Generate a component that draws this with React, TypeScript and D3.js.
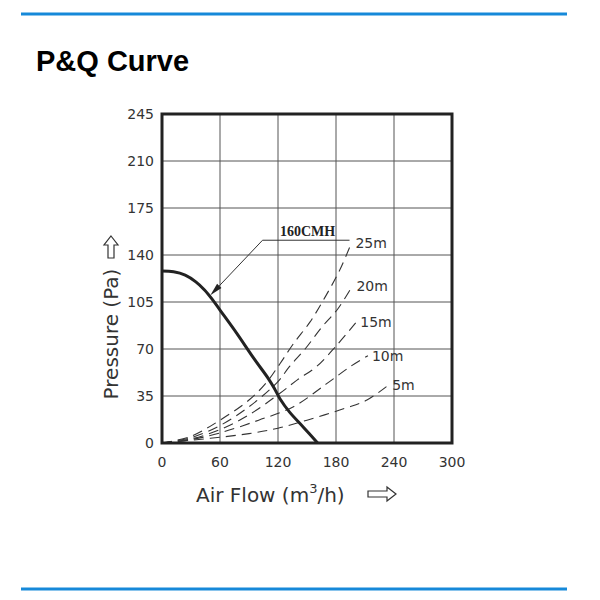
import * as d3 from 'd3';

// axis ticks
const xTicks = [0, 60, 120, 180, 240, 300];
const yTicks = [0, 35, 70, 105, 140, 175, 210, 245];

// fan P-Q curve: [air flow m3/h, pressure Pa]
const pqCurve: [number, number][] = [
  [0, 128], [12, 127.5], [24, 125], [35, 120], [44, 114], [52, 107], [60, 99], [77, 82], [95, 63],
  [110, 48], [116, 41], [122, 33], [132, 23], [146, 12], [161, 0],
];

// system resistance curves (duct length)
const sysNames = ['25m', '20m', '15m', '10m', '5m'];
const sys25: [number, number][] = [[0, 0], [30, 5], [60, 17], [90, 32], [108, 45], [122, 59], [136, 74], [153, 90], [169, 109], [184, 129], [196, 149]];
const sys20: [number, number][] = [[0, 0], [30, 4], [60, 13], [90, 27], [119, 45], [132, 57], [148, 70], [165, 86], [182, 100], [197, 117]];
const sys15: [number, number][] = [[0, 0], [30, 3], [60, 10], [90, 21], [122, 37], [140, 47], [160, 57], [181, 73], [201, 90]];
const sys10: [number, number][] = [[0, 0], [30, 2.5], [60, 7.5], [100, 17], [136, 27], [170, 44], [195, 57], [213, 65]];
const sys5: [number, number][] = [[0, 0], [50, 3.5], [90, 7], [120, 11], [150, 17], [190, 26], [212, 32], [234, 43]];
const sysCurves = [sys25, sys20, sys15, sys10, sys5];

// annotation leader: tip on curve, elbow, end of underline
const annoLabel = '160CMH';
const annoPts: [number, number][] = [[50, 110], [104, 151], [194, 151]];

const W = 600;
const H = 600;
const plot = { left: 162, right: 452, top: 114, bottom: 443 };
const font = '"DejaVu Sans", sans-serif';

export default function App() {
  const x = d3.scaleLinear().domain([0, 300]).range([plot.left, plot.right]);
  const y = d3.scaleLinear().domain([0, 245]).range([plot.bottom, plot.top]);

  const line = d3.line<[number, number]>()
    .x(d => x(d[0]))
    .y(d => y(d[1]));
  const smooth = d3.line<[number, number]>()
    .x(d => x(d[0]))
    .y(d => y(d[1]))
    .curve(d3.curveCatmullRom.alpha(0.5));

  const [tip, elbow, end] = annoPts;
  const tx = x(tip[0]), ty = y(tip[1]);
  const ex = x(elbow[0]), ey = y(elbow[1]);
  const ang = Math.atan2(ey - ty, ex - tx);
  const headLen = 13, headW = 3;
  const hx = tx + headLen * Math.cos(ang), hy = ty + headLen * Math.sin(ang);
  const px = -Math.sin(ang) * headW, py = Math.cos(ang) * headW;

  return (
    <svg width={W} height={H} style={{ position: 'absolute', left: 0, top: 0 }}>
      <rect width={W} height={H} fill="#fff" />
      <line x1={21} x2={567} y1={14} y2={14} stroke="#1689d9" strokeWidth={3} />
      <line x1={21} x2={567} y1={589} y2={589} stroke="#1689d9" strokeWidth={3} />
      <text x={36} y={71} fontFamily='"Liberation Sans", Arial, sans-serif' fontWeight="bold" fontSize={29} fill="#000">P&amp;Q Curve</text>

      {/* grid */}
      <g stroke="#555" strokeWidth={1}>
        {xTicks.slice(1, -1).map(t => (
          <line key={'gx' + t} x1={x(t)} x2={x(t)} y1={plot.top} y2={plot.bottom} />
        ))}
        {yTicks.slice(1, -1).map(t => (
          <line key={'gy' + t} x1={plot.left} x2={plot.right} y1={y(t)} y2={y(t)} />
        ))}
      </g>

      {/* tick labels */}
      <g fontFamily={font} fontSize={14} fill="#333">
        {yTicks.map(t => (
          <text key={'ty' + t} x={plot.left - 8} y={y(t) + 5} textAnchor="end">{t}</text>
        ))}
        {xTicks.map(t => (
          <text key={'tx' + t} x={x(t)} y={467} textAnchor="middle">{t}</text>
        ))}
      </g>

      {/* system curves */}
      <g fill="none" stroke="#333" strokeWidth={1.1} strokeDasharray="10,6">
        {sysCurves.map((c, i) => (
          <path key={sysNames[i]} d={smooth(c) ?? ''} />
        ))}
      </g>
      <g fontFamily={font} fontSize={14} fill="#333">
        {sysCurves.map((c, i) => {
          const last = c[c.length - 1];
          return (
            <text key={'l' + sysNames[i]} x={x(last[0]) + 4} y={y(last[1]) + 5}>{sysNames[i]}</text>
          );
        })}
      </g>

      {/* P-Q curve */}
      <path d={smooth(pqCurve) ?? ''} fill="none" stroke="#222" strokeWidth={3} />

      {/* annotation */}
      <path d={line([elbow, end]) ?? ''} fill="none" stroke="#333" strokeWidth={1} />
      <line x1={ex} y1={ey} x2={hx} y2={hy} stroke="#333" strokeWidth={1} />
      <path d={`M${tx},${ty}L${hx + px},${hy + py}L${hx - px},${hy - py}Z`} fill="#222" />
      <text x={x(122)} y={y(151) - 4} fontFamily='"Liberation Serif", "Times New Roman", serif' fontWeight="bold" fontSize={14} fill="#222">{annoLabel}</text>

      {/* frame */}
      <rect x={plot.left} y={plot.top} width={plot.right - plot.left} height={plot.bottom - plot.top}
        fill="none" stroke="#222" strokeWidth={3} />

      {/* axis titles */}
      <text transform="translate(118,334) rotate(-90)" textAnchor="middle" fontFamily={font} fontSize={20} fill="#333">Pressure (Pa)</text>
      <path transform="translate(111,236)" d="M0,0L7,9L3,9L3,22L-3,22L-3,9L-7,9Z" fill="none" stroke="#333" strokeWidth={1.2} />
      <text x={196} y={502} fontFamily={font} fontSize={20} fill="#333">
        Air Flow (m<tspan dy={-9} fontSize={13}>3</tspan><tspan dy={9}>/h)</tspan>
      </text>
      <path transform="translate(368,494)" d="M28,0L19,-7L19,-3L0,-3L0,3L19,3L19,7Z" fill="none" stroke="#333" strokeWidth={1.2} />
    </svg>
  );
}
